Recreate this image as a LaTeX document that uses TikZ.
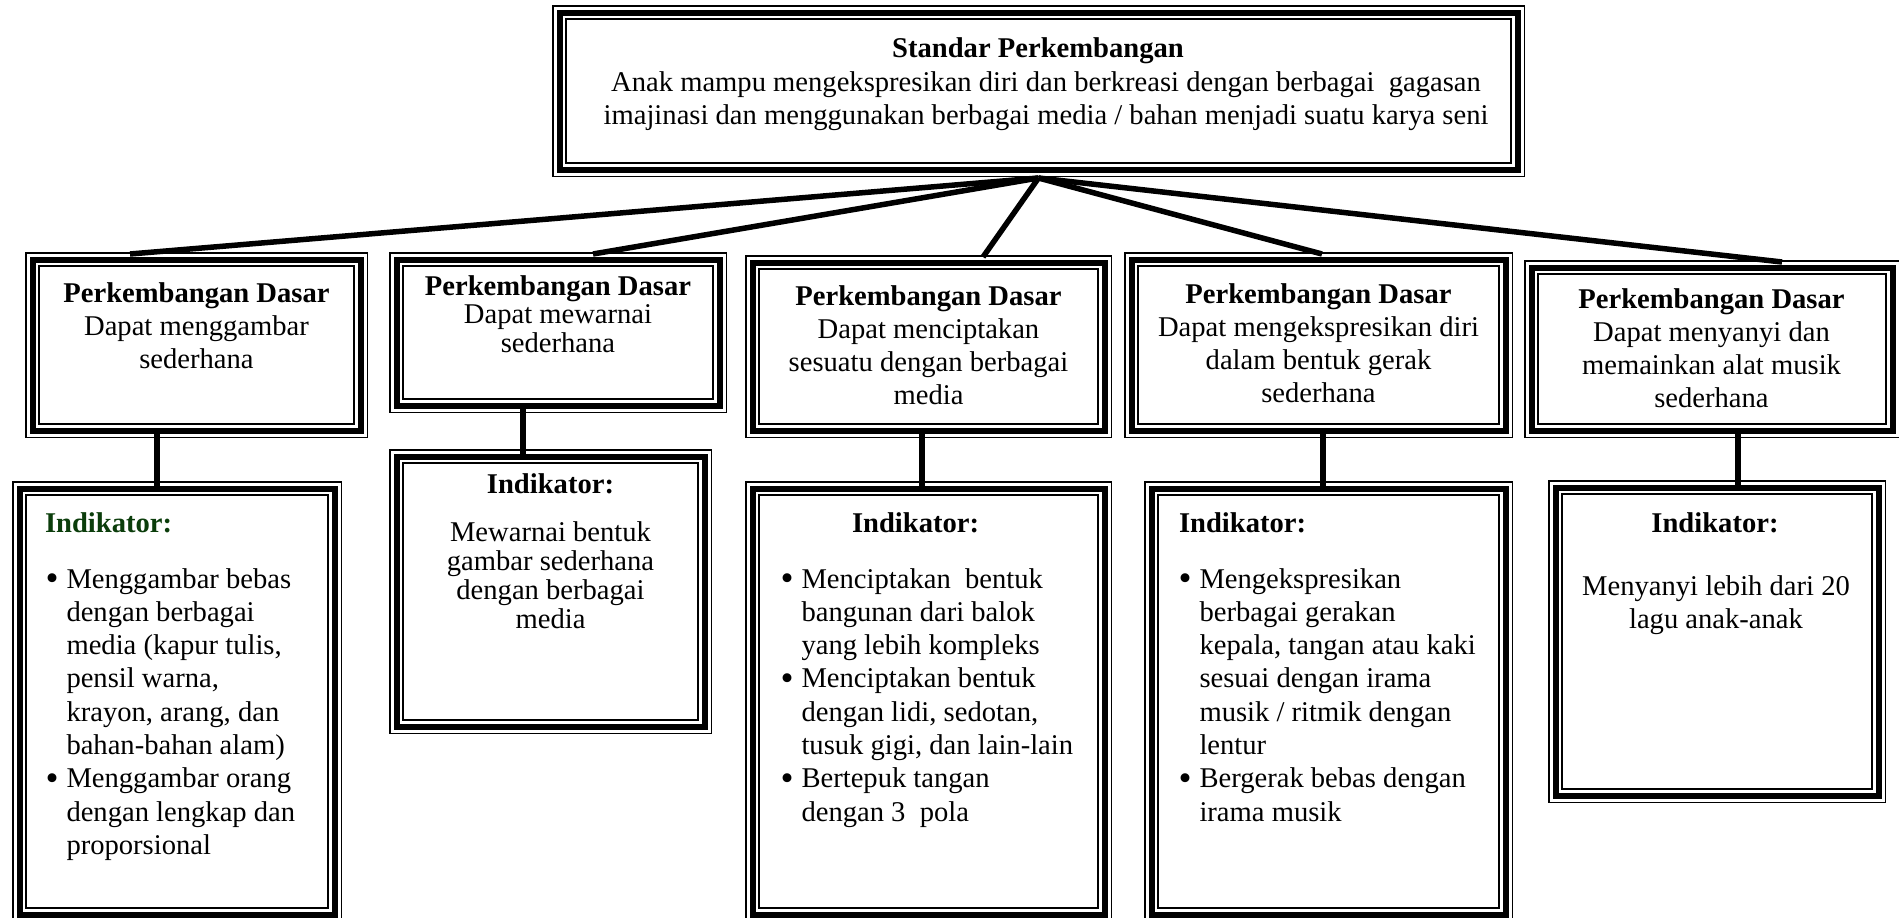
\documentclass[tikz,border=0pt]{standalone}
\usepackage{fontspec}
\setmainfont{Liberation Serif}
\definecolor{indgreen}{HTML}{0B3D0B}
\newcommand\bodyfont{\fontsize{28.6}{33.3}\selectfont}
\newcommand\tightfont{\fontsize{28.6}{28.8}\selectfont}
\newcommand\bul{\makebox[21pt][l]{\raisebox{-0.08em}{\scalebox{1.3}{\textbullet}}}}

\tikzset{
  % thin / thick / thin triple border drawn inside the node outline
  frame/.style={rectangle, fill=white, inner sep=0pt, outer sep=0pt, anchor=north west,
    path picture={
      \draw[line width=1.5pt]
        ([shift={(0.75pt,-0.75pt)}]path picture bounding box.north west) rectangle
        ([shift={(-0.75pt,0.75pt)}]path picture bounding box.south east);
      \draw[line width=6pt]
        ([shift={(7.5pt,-7.5pt)}]path picture bounding box.north west) rectangle
        ([shift={(-7.5pt,7.5pt)}]path picture bounding box.south east);
      \draw[line width=2pt]
        ([shift={(13.7pt,-13.7pt)}]path picture bounding box.north west) rectangle
        ([shift={(-13.7pt,13.7pt)}]path picture bounding box.south east);
    }},
  txt/.style={inner sep=0pt, outer sep=0pt, font=\bodyfont},
  link/.style={line width=5.5pt},
}

\begin{document}
\begin{tikzpicture}[x=1pt,y=-1pt]
\useasboundingbox (0,0) rectangle (1899,918);
\clip (0,0) rectangle (1899,918);

% ---- frames ----
\node[frame, minimum width=973pt, minimum height=172pt] (sd) at (552,5) {};

\node[frame, minimum width=343pt, minimum height=186pt] (pd1) at (25,252) {};
\node[frame, minimum width=338pt, minimum height=161pt] (pd2) at (389,252) {};
\node[frame, minimum width=367pt, minimum height=183pt] (pd3) at (745,255) {};
\node[frame, minimum width=389pt, minimum height=186pt] (pd4) at (1124,252) {};
\node[frame, minimum width=376pt, minimum height=178pt] (pd5) at (1524,260) {};

\node[frame, minimum width=330pt, minimum height=441pt] (ind1) at (12,481) {};
\node[frame, minimum width=323pt, minimum height=285pt] (ind2) at (389,449) {};
\node[frame, minimum width=367pt, minimum height=441pt] (ind3) at (745,481) {};
\node[frame, minimum width=369pt, minimum height=441pt] (ind4) at (1144,481) {};
\node[frame, minimum width=338pt, minimum height=323pt] (ind5) at (1548,480) {};

% ---- connectors ----
\coordinate (hub) at ([yshift=-1pt]sd.south);
\draw[link] (hub) -- ([xshift=105pt,yshift=-2pt]pd1.north west);
\draw[link] (hub) -- ([xshift=204pt,yshift=-2pt]pd2.north west);
\draw[link] (hub) -- ([xshift=238pt,yshift=-2pt]pd3.north west);
\draw[link] (hub) -- ([xshift=198pt,yshift=-2pt]pd4.north west);
\draw[link] (hub) -- ([xshift=258pt,yshift=-2pt]pd5.north west);

\draw[link] ([xshift=132pt,yshift=6pt]pd1.south west) -- ([xshift=145pt,yshift=-8pt]ind1.north west);
\draw[link] ([xshift=134pt,yshift=6pt]pd2.south west) -- ([xshift=134pt,yshift=-8pt]ind2.north west);
\draw[link] ([xshift=177pt,yshift=6pt]pd3.south west) -- ([xshift=177pt,yshift=-8pt]ind3.north west);
\draw[link] ([xshift=199pt,yshift=6pt]pd4.south west) -- ([xshift=179pt,yshift=-8pt]ind4.north west);
\draw[link] ([xshift=214pt,yshift=6pt]pd5.south west) -- ([xshift=190pt,yshift=-8pt]ind5.north west);

% ---- standard ----
\node[txt, anchor=base, font=\bodyfont\bfseries] (t0) at (1038,57.5) {Standar Perkembangan};
\node[txt, anchor=base] (t0b) at (1046,91) {\begin{tabular}[t]{@{}c@{}}
Anak mampu mengekspresikan diri dan berkreasi dengan berbagai\ \ gagasan\\
imajinasi dan menggunakan berbagai media / bahan menjadi suatu karya seni\end{tabular}};

% ---- basic developments ----
\node[txt, anchor=base] (tp1) at (196.5,302) {\begin{tabular}[t]{@{}c@{}}
\textbf{Perkembangan Dasar}\\ Dapat menggambar\\ sederhana\end{tabular}};
\node[txt, anchor=base, font=\tightfont] (tp2) at (558,295) {\begin{tabular}[t]{@{}c@{}}
\textbf{Perkembangan Dasar}\\ Dapat mewarnai\\ sederhana\end{tabular}};
\node[txt, anchor=base] (tp3) at (928.5,305) {\begin{tabular}[t]{@{}c@{}}
\textbf{Perkembangan Dasar}\\ Dapat menciptakan\\ sesuatu dengan berbagai\\ media\end{tabular}};
\node[txt, anchor=base] (tp4) at (1318.5,303) {\begin{tabular}[t]{@{}c@{}}
\textbf{Perkembangan Dasar}\\ Dapat mengekspresikan diri\\ dalam bentuk gerak\\ sederhana\end{tabular}};
\node[txt, anchor=base] (tp5) at (1711.5,308) {\begin{tabular}[t]{@{}c@{}}
\textbf{Perkembangan Dasar}\\ Dapat menyanyi dan\\ memainkan alat musik\\ sederhana\end{tabular}};

% ---- indicators ----
\node[txt, anchor=base west, font=\bodyfont\bfseries, text=indgreen] (h1) at (45,532) {Indikator:};
\node[txt, anchor=base west] (b1) at (45.5,588) {\begin{tabular}[t]{@{}l@{}l@{}}
\bul & Menggambar bebas\\
     & dengan berbagai\\
     & media (kapur tulis,\\
     & pensil warna,\\
     & krayon, arang, dan\\
     & bahan-bahan alam)\\
\bul & Menggambar orang\\
     & dengan lengkap dan\\
     & proporsional\end{tabular}};

\node[txt, anchor=base, font=\bodyfont\bfseries] (h2) at (550.5,493) {Indikator:};
\node[txt, anchor=base, font=\tightfont] (b2) at (550.5,541.7) {\begin{tabular}[t]{@{}c@{}}
Mewarnai bentuk\\ gambar sederhana\\ dengan berbagai\\ media\end{tabular}};

\node[txt, anchor=base west, font=\bodyfont\bfseries] (h3) at (852,532) {Indikator:};
\node[txt, anchor=base west] (b3) at (780.5,588) {\begin{tabular}[t]{@{}l@{}l@{}}
\bul & Menciptakan\ \ bentuk\\
     & bangunan dari balok\\
     & yang lebih kompleks\\
\bul & Menciptakan bentuk\\
     & dengan lidi, sedotan,\\
     & tusuk gigi, dan lain-lain\\
\bul & Bertepuk tangan\\
     & dengan 3\ \ pola\end{tabular}};

\node[txt, anchor=base west, font=\bodyfont\bfseries] (h4) at (1179,532) {Indikator:};
\node[txt, anchor=base west] (b4) at (1178.5,588) {\begin{tabular}[t]{@{}l@{}l@{}}
\bul & Mengekspresikan\\
     & berbagai gerakan\\
     & kepala, tangan atau kaki\\
     & sesuai dengan irama\\
     & musik / ritmik dengan\\
     & lentur\\
\bul & Bergerak bebas dengan\\
     & irama musik\end{tabular}};

\node[txt, anchor=base, font=\bodyfont\bfseries] (h5) at (1715,532) {Indikator:};
\node[txt, anchor=base] (b5) at (1716,595) {\begin{tabular}[t]{@{}c@{}}
Menyanyi lebih dari 20\\ lagu anak-anak\end{tabular}};
\end{tikzpicture}
\end{document}
